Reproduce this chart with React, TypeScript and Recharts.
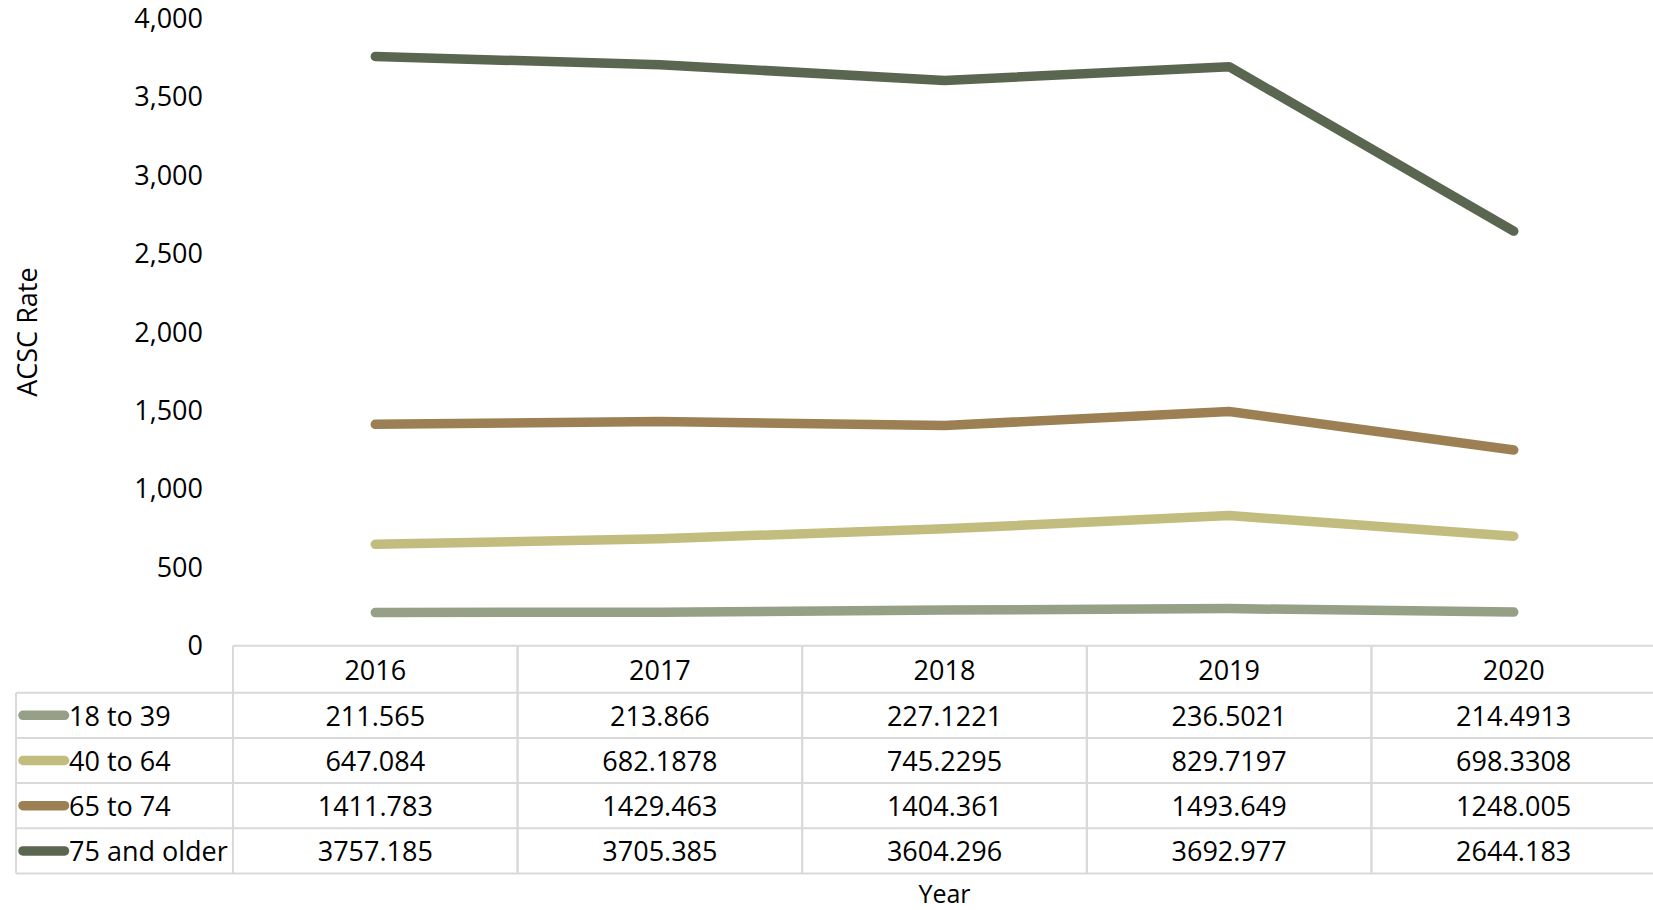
import { LineChart, Line, XAxis, YAxis, Legend, Label } from "recharts";

// categories and series values (ACSC rate by age group)
const years = ["2016", "2017", "2018", "2019", "2020"];
const age18to39 = [211.565, 213.866, 227.1221, 236.5021, 214.4913];
const age40to64 = [647.084, 682.1878, 745.2295, 829.7197, 698.3308];
const age65to74 = [1411.783, 1429.463, 1404.361, 1493.649, 1248.005];
const age75plus = [3757.185, 3705.385, 3604.296, 3692.977, 2644.183];
const yTicks = [0, 500, 1000, 1500, 2000, 2500, 3000, 3500, 4000];

const SERIES = [
  { key: "age18to39", name: "18 to 39", values: age18to39, color: "#95A087" },
  { key: "age40to64", name: "40 to 64", values: age40to64, color: "#C2BC7F" },
  { key: "age65to74", name: "65 to 74", values: age65to74, color: "#9C8053" },
  { key: "age75plus", name: "75 and older", values: age75plus, color: "#5B6651" },
];

const data = years.map((year, i) => {
  const row: Record<string, string | number> = { year };
  SERIES.forEach((s) => {
    row[s.key] = s.values[i];
  });
  return row;
});

const FONT = "'Open Sans', sans-serif";
const FONT_SIZE = 27;
const TEXT = "#000000";
const BORDER = "#D9D9D9";

const CHART_W = 1656;
const CHART_H = 910;
const TOP = 18.5;
const Y_AXIS_W = 233;
const X_AXIS_H = 264.3;
const PLOT_BOTTOM = CHART_H - X_AXIS_H;
const COL_W = (CHART_W - Y_AXIS_W) / years.length;
// offsets of the data table row lines below the x axis
const ROW_Y = [0, 47, 92.2, 137.4, 182.6, 227.8];

interface TickProps {
  x?: number;
  y?: number;
  payload?: { value: string };
}

function TableTick({ x = 0, y = 0, payload }: TickProps) {
  const i = years.indexOf(payload?.value ?? "");
  const left = x - COL_W / 2;
  const right = x + COL_W / 2;
  const bottom = y + ROW_Y[ROW_Y.length - 1];
  const textProps = {
    textAnchor: "middle" as const,
    dominantBaseline: "central" as const,
    fontFamily: FONT,
    fontSize: FONT_SIZE,
    fill: TEXT,
  };
  return (
    <g>
      {ROW_Y.map((r) => (
        <line key={r} x1={left} x2={right} y1={y + r} y2={y + r} stroke={BORDER} strokeWidth={2} />
      ))}
      <line x1={left} x2={left} y1={y} y2={bottom} stroke={BORDER} strokeWidth={2} />
      <line x1={right} x2={right} y1={y} y2={bottom} stroke={BORDER} strokeWidth={2} />
      <text x={x} y={y + (ROW_Y[0] + ROW_Y[1]) / 2} {...textProps}>
        {payload?.value}
      </text>
      {SERIES.map((s, r) => (
        <text key={s.key} x={x} y={y + (ROW_Y[r + 1] + ROW_Y[r + 2]) / 2} {...textProps}>
          {String(s.values[i])}
        </text>
      ))}
    </g>
  );
}

// legend drawn as the first column of the data table
const LEGEND_LEFT = 15;
const LEGEND_TOP = 691;

function LegendColumn({ payload }: { payload?: { value: string; color: string }[] }) {
  const items = payload ?? [];
  const rowLine = (k: number) => PLOT_BOTTOM + ROW_Y[k] - LEGEND_TOP;
  const x0 = 1;
  const x1 = Y_AXIS_W - LEGEND_LEFT;
  return (
    <svg width={x1 + 2} height={rowLine(ROW_Y.length - 1) + 2} style={{ display: "block", overflow: "visible" }}>
      {ROW_Y.slice(1).map((_, k) => (
        <line key={k} x1={x0} x2={x1} y1={rowLine(k + 1)} y2={rowLine(k + 1)} stroke={BORDER} strokeWidth={2} />
      ))}
      <line x1={x0} x2={x0} y1={rowLine(1)} y2={rowLine(ROW_Y.length - 1)} stroke={BORDER} strokeWidth={2} />
      {items.map((item, r) => {
        const cy = (rowLine(r + 1) + rowLine(r + 2)) / 2;
        return (
          <g key={item.value}>
            <line x1={8} x2={49.5} y1={cy} y2={cy} stroke={item.color} strokeWidth={9.5} strokeLinecap="round" />
            <text x={54} y={cy} dominantBaseline="central" fontFamily={FONT} fontSize={FONT_SIZE} fill={TEXT}>
              {item.value}
            </text>
          </g>
        );
      })}
    </svg>
  );
}

interface ViewBox {
  x: number;
  y: number;
  width: number;
  height: number;
}

function YTitle({ viewBox }: { viewBox?: ViewBox }) {
  if (!viewBox) return null;
  const cx = viewBox.x + 27;
  const cy = viewBox.y + viewBox.height / 2;
  return (
    <text
      x={cx}
      y={cy}
      transform={`rotate(-90 ${cx} ${cy})`}
      textAnchor="middle"
      dominantBaseline="central"
      fontFamily={FONT}
      fontSize={FONT_SIZE}
      fill={TEXT}
    >
      ACSC Rate
    </text>
  );
}

function XTitle({ viewBox }: { viewBox?: ViewBox }) {
  if (!viewBox) return null;
  return (
    <text
      x={viewBox.x + viewBox.width / 2}
      y={viewBox.y + 256.8}
      textAnchor="middle"
      fontFamily={FONT}
      fontSize={25}
      fill={TEXT}
    >
      Year
    </text>
  );
}

export default function App() {
  return (
    <div
      style={{
        position: "absolute",
        left: 0,
        top: 0,
        width: 1653,
        height: CHART_H,
        overflow: "hidden",
        background: "#FFFFFF",
      }}
    >
      <LineChart
        width={CHART_W}
        height={CHART_H}
        data={data}
        margin={{ top: TOP, right: 0, bottom: 0, left: 0 }}
      >
        <XAxis
          dataKey="year"
          height={X_AXIS_H}
          interval={0}
          axisLine={false}
          tickLine={false}
          tickSize={0}
          tickMargin={0}
          padding={{ left: COL_W / 2, right: COL_W / 2 }}
          tick={<TableTick />}
        >
          <Label content={<XTitle />} />
        </XAxis>
        <YAxis
          width={Y_AXIS_W}
          domain={[0, 4000]}
          ticks={yTicks}
          interval={0}
          axisLine={false}
          tickLine={false}
          tickSize={0}
          tickMargin={30}
          tickFormatter={(v: number) => v.toLocaleString("en-US")}
          tick={{ fontFamily: FONT, fontSize: FONT_SIZE, fill: TEXT }}
        >
          <Label content={<YTitle />} />
        </YAxis>
        <Legend
          layout="vertical"
          align="center"
          verticalAlign="middle"
          wrapperStyle={{ left: LEGEND_LEFT, top: LEGEND_TOP, width: "auto" }}
          content={<LegendColumn />}
        />
        {SERIES.map((s) => (
          <Line
            key={s.key}
            dataKey={s.key}
            name={s.name}
            stroke={s.color}
            strokeWidth={9.5}
            strokeLinecap="round"
            strokeLinejoin="round"
            dot={false}
            activeDot={false}
            type="linear"
            isAnimationActive={false}
          />
        ))}
      </LineChart>
    </div>
  );
}
